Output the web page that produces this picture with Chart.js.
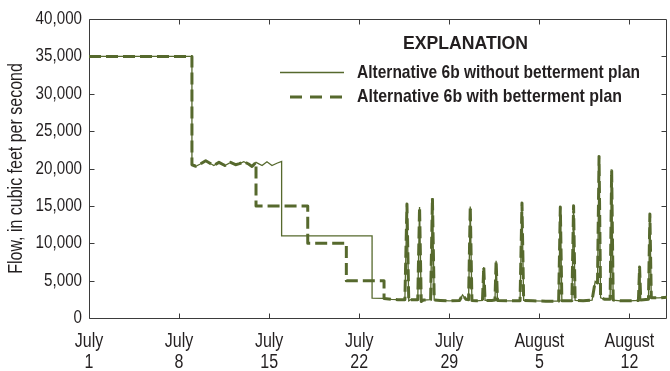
<!DOCTYPE html>
<html>
<head>
<meta charset="utf-8">
<script src="https://cdn.jsdelivr.net/npm/chart.js@4.4.1/dist/chart.umd.min.js"></script>
<style>
  html, body { margin: 0; padding: 0; background: #fff; overflow: hidden; }
  #wrap { position: relative; width: 674px; height: 371px; }
</style>
</head>
<body>
<div id="wrap"><canvas id="flowChart"></canvas></div>
<script>
// Days are counted from July 1 (day 0).
const tickDays = [0, 7, 14, 21, 28, 35, 42];
const tickLabels = [["July", "1"], ["July", "8"], ["July", "15"], ["July", "22"],
                    ["July", "29"], ["August", "5"], ["August", "12"]];

// Flow, in cubic feet per second, shared by both alternatives
const openingDays = [0, 8];
const openingFlow = [35000, 35000];
const steadyDays = [8, 8.3, 8.65, 9.07, 9.4, 9.7, 10.1, 10.56, 11.0, 11.39, 11.7, 12.03, 12.4, 12.67, 12.98];
const steadyFlow = [20500, 20300, 20600, 21040, 20700, 20400, 20820, 20400, 20820, 20510, 20650, 20910, 20600, 20280, 20820];

// Alternative 6b without betterment plan
const withoutDays = [13.45, 13.83, 14.22, 14.6, 14.97, 14.97, 22.0, 22.0, 22.93];
const withoutFlow = [20400, 20910, 20400, 20700, 20950, 11000, 11000, 2650, 2620];

// Alternative 6b with betterment plan
const withDays = [12.98, 17.0, 17.0, 20.0, 20.0, 22.93, 22.93];
const withFlow = [15000, 15000, 10000, 10000, 5000, 5000, 2600];

// Low-flow period with storm peaks, identical under both alternatives
const tailDays = [23.5, 24.0, 24.55, 24.71, 24.85, 25.0, 25.55, 25.69, 25.82, 26.0, 26.55, 26.69, 26.83,
  27.3, 28.0, 28.8, 29.03, 29.3, 29.5, 29.63, 29.76, 30.1, 30.58, 30.68, 30.78, 31.3, 31.55, 31.64, 31.75,
  32.5, 33.5, 33.65, 33.78, 34.5, 35.5, 36.5, 36.63, 36.75, 37.2, 37.53, 37.66, 37.78, 38.4, 39.1, 39.34,
  39.52, 39.64, 39.76, 40.1, 40.5, 40.62, 40.74, 41.3, 42.0, 42.7, 42.79, 42.88, 43.48, 43.59, 43.7, 44.3, 45.0];
const tailFlow = [2500, 2450, 2450, 15250, 2300, 2450, 2450, 14850, 2200, 2400, 2450, 16050, 2400,
  2350, 2300, 2350, 3100, 2500, 2450, 14930, 2350, 2300, 2350, 6820, 2350, 2350, 2400, 7660, 2350,
  2300, 2300, 15380, 2350, 2300, 2250, 2250, 14850, 2300, 2300, 2300, 15020, 2350, 2300, 2400, 4900,
  4700, 21620, 2700, 2500, 2500, 19700, 2400, 2300, 2300, 2350, 6820, 2400, 2500, 13910, 2700, 2700, 2800];

const seriesNames = ["Alternative 6b without betterment plan", "Alternative 6b with betterment plan"];

const toPoints = (days, flow) => days.map((d, i) => ({ x: d, y: flow[i] }));

const FONT = '"Liberation Sans", Arial, sans-serif';
const INK = '#231f20';
const OLIVE = '#56692d';
const FRAME = '#3b3b3b';
const NARROW = 0.82; // horizontal squeeze giving a condensed face

const solidPoints = [].concat(
  toPoints(openingDays, openingFlow), toPoints(steadyDays, steadyFlow),
  toPoints(withoutDays, withoutFlow), toPoints(tailDays, tailFlow));
const dashedPoints = [].concat(
  toPoints(openingDays, openingFlow), toPoints(steadyDays, steadyFlow),
  toPoints(withDays, withFlow), toPoints(tailDays, tailFlow));

// All chart text is set in a condensed width via fillText's maxWidth argument
const condensedText = {
  id: 'condensedText',
  beforeInit(chart) {
    const ctx = chart.ctx;
    const fill = ctx.fillText.bind(ctx);
    ctx.fillText = function (text, x, y, maxWidth) {
      const w = maxWidth !== undefined ? maxWidth : ctx.measureText(text).width * NARROW;
      fill(text, x, y, w);
    };
  }
};

// Plot frame with inward tick marks on all four sides
const framePlugin = {
  id: 'frame',
  beforeDatasetsDraw(chart) {
    const { ctx, chartArea: a, scales: { x, y } } = chart;
    const L = Math.floor(a.left) + 0.5, T = Math.floor(a.top) + 0.5;
    const B = Math.floor(a.bottom) + 0.5, R = Math.floor(a.right) + 0.5;
    ctx.save();
    ctx.strokeStyle = FRAME;
    ctx.lineWidth = 1;
    ctx.beginPath();
    ctx.rect(L, T, R - L, B - T);
    tickDays.forEach(d => {
      const px = Math.round(x.getPixelForValue(d)) + 0.5;
      ctx.moveTo(px, B); ctx.lineTo(px, B - 5);
      ctx.moveTo(px, T); ctx.lineTo(px, T + 5);
    });
    for (let v = 5000; v < 40000; v += 5000) {
      const py = Math.round(y.getPixelForValue(v)) + 0.5;
      ctx.moveTo(L, py); ctx.lineTo(L + 5, py);
      ctx.moveTo(R, py); ctx.lineTo(R - 5, py);
    }
    ctx.stroke();
    ctx.restore();
  }
};

// Explanation block inside the plot
const explanationPlugin = {
  id: 'explanation',
  afterDraw(chart) {
    const ctx = chart.ctx;
    ctx.save();
    ctx.fillStyle = INK;
    ctx.textBaseline = 'middle';
    ctx.textAlign = 'center';
    ctx.font = 'bold 19px ' + FONT;
    ctx.fillText('EXPLANATION', 465.5, 43.5, 125);

    ctx.strokeStyle = OLIVE;
    ctx.lineWidth = 1.3;
    ctx.beginPath(); ctx.moveTo(280, 72.5); ctx.lineTo(344, 72.5); ctx.stroke();
    ctx.lineWidth = 3;
    ctx.setLineDash([12, 8]);
    ctx.beginPath(); ctx.moveTo(290, 97); ctx.lineTo(342, 97); ctx.stroke();
    ctx.setLineDash([]);

    ctx.textAlign = 'left';
    ctx.font = 'bold 19px ' + FONT;
    ctx.fillText(seriesNames[0], 357, 73, 283);
    ctx.fillText(seriesNames[1], 357, 97, 265);
    ctx.restore();
  }
};

new Chart(document.getElementById('flowChart'), {
  type: 'line',
  data: {
    datasets: [
      {
        label: seriesNames[0],
        data: solidPoints,
        borderColor: OLIVE,
        borderWidth: 1.3,
        pointRadius: 0,
        tension: 0,
        order: 2
      },
      {
        label: seriesNames[1],
        data: dashedPoints,
        borderColor: OLIVE,
        borderWidth: 3,
        borderDash: [12, 5],
        borderJoinStyle: 'round',
        pointRadius: 0,
        tension: 0,
        order: 1
      }
    ]
  },
  options: {
    responsive: true,
    maintainAspectRatio: false,
    animation: false,
    layout: { padding: { top: 19, right: 3.5, left: 0, bottom: 0 } },
    plugins: { legend: { display: false }, tooltip: { enabled: false } },
    scales: {
      x: {
        type: 'linear',
        min: 0,
        max: 44.92,
        afterBuildTicks: s => { s.ticks = tickDays.map(v => ({ value: v })); },
        afterFit: s => { s.height = 53; },
        grid: { display: false, drawTicks: false },
        border: { display: false },
        ticks: {
          autoSkip: false,
          maxRotation: 0,
          padding: 14,
          color: INK,
          font: { family: FONT, size: 19.5, lineHeight: 1.03 },
          callback: v => tickLabels[tickDays.indexOf(v)]
        }
      },
      y: {
        min: 0,
        max: 40000,
        afterFit: s => { s.width = 89; },
        grid: { display: false, drawTicks: false },
        border: { display: false },
        ticks: {
          stepSize: 5000,
          padding: 7,
          color: INK,
          font: { family: FONT, size: 18.5 },
          callback: v => v.toLocaleString('en-US')
        },
        title: {
          display: true,
          text: 'Flow, in cubic feet per second',
          color: INK,
          font: { family: FONT, size: 19.5 },
          padding: { top: 4.5, bottom: 0 }
        }
      }
    }
  },
  plugins: [condensedText, framePlugin, explanationPlugin]
});
</script>
</body>
</html>
